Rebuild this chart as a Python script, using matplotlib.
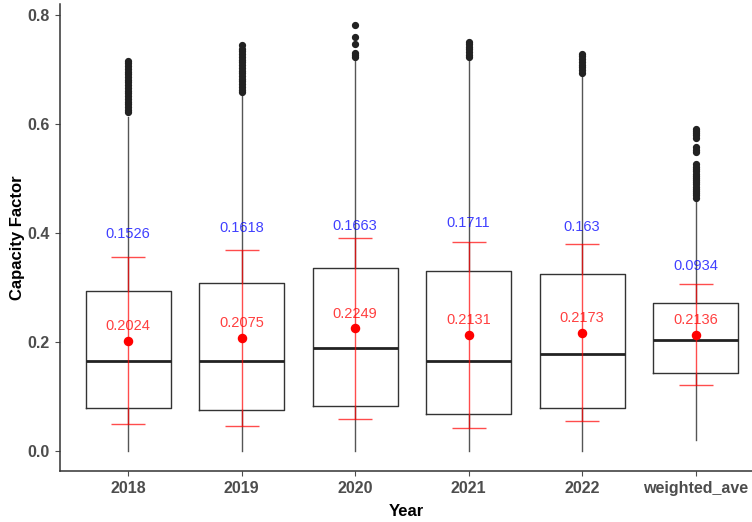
import numpy as np
import matplotlib
matplotlib.use("Agg")
import matplotlib.pyplot as plt

plt.rcParams['font.family'] = ['Liberation Sans', 'DejaVu Sans']

# ============================================================
# data
groups = ["2018", "2019", "2020", "2021", "2022", "weighted_ave"]

q1 = [0.079, 0.075, 0.083, 0.068, 0.079, 0.143]
med = [0.165, 0.165, 0.189, 0.165, 0.178, 0.204]
q3 = [0.294, 0.308, 0.336, 0.330, 0.325, 0.272]
whis_lo = [0.0, 0.0, 0.0, 0.0, 0.0, 0.021]
whis_hi = [0.612, 0.653, 0.718, 0.718, 0.690, 0.460]

fliers = [
    [0.621, 0.626, 0.631, 0.636, 0.641, 0.646, 0.651, 0.656, 0.661, 0.666, 0.671,
     0.676, 0.681, 0.686, 0.691, 0.696, 0.701, 0.706, 0.711, 0.715],
    [0.658, 0.663, 0.668, 0.673, 0.678, 0.683, 0.688, 0.693, 0.698, 0.703, 0.708,
     0.713, 0.718, 0.723, 0.728, 0.733, 0.738, 0.744],
    [0.722, 0.726, 0.731, 0.747, 0.760, 0.782],
    [0.722, 0.727, 0.732, 0.737, 0.742, 0.746, 0.750],
    [0.694, 0.699, 0.704, 0.709, 0.714, 0.719, 0.724, 0.728],
    [0.465, 0.469, 0.473, 0.477, 0.481, 0.485, 0.489, 0.493, 0.497, 0.501, 0.505,
     0.509, 0.513, 0.517, 0.521, 0.526, 0.548, 0.552, 0.557, 0.575, 0.579, 0.583,
     0.587, 0.590],
]

means = [0.2024, 0.2075, 0.2249, 0.2131, 0.2173, 0.2136]
sds = [0.1526, 0.1618, 0.1663, 0.1711, 0.163, 0.0934]
sd_label_y = [0.398, 0.409, 0.413, 0.419, 0.410, 0.339]

# ============================================================
fig = plt.figure(figsize=(7.52, 5.22), dpi=100)
ax = fig.add_axes([60 / 752, 51 / 522, 692 / 752, 467 / 522])

x = np.arange(1, len(groups) + 1)

stats = []
for i in range(len(groups)):
    stats.append(dict(med=med[i], q1=q1[i], q3=q3[i],
                      whislo=whis_lo[i], whishi=whis_hi[i],
                      fliers=fliers[i], label=groups[i]))

ax.bxp(stats, positions=x, widths=0.75, showcaps=False,
       boxprops=dict(color="#333333", linewidth=1.0),
       whiskerprops=dict(color="#555555", linewidth=1.0),
       medianprops=dict(color="#222222", linewidth=2.0),
       flierprops=dict(marker="o", markersize=4.2, markerfacecolor="#222222",
                       markeredgecolor="#222222", linestyle="none"))

# mean +- sd error bars
m = np.array(means)
s = np.array(sds)
ax.vlines(x, m - s, m + s, colors="red", alpha=0.7, linewidth=1.0, zorder=3)
ax.hlines(m - s, x - 0.15, x + 0.15, colors="red", alpha=0.7, linewidth=1.0, zorder=3)
ax.hlines(m + s, x - 0.15, x + 0.15, colors="red", alpha=0.7, linewidth=1.0, zorder=3)
ax.scatter(x, m, color="red", s=34, zorder=4)

for i in range(len(groups)):
    ax.text(x[i], m[i] + 0.027, str(means[i]), color="red", alpha=0.75,
            fontsize=10.5, ha="center", va="center", zorder=5)
    ax.text(x[i], sd_label_y[i], str(sds[i]), color="blue", alpha=0.75,
            fontsize=10.5, ha="center", va="center", zorder=5)

ax.set_xlim(0.4, 6.497)
ax.set_ylim(-0.0367, 0.82)
ax.set_xticks(x)
ax.set_xticklabels(groups)
ax.set_yticks([0.0, 0.2, 0.4, 0.6, 0.8])
ax.set_yticklabels(["0.0", "0.2", "0.4", "0.6", "0.8"])

for sp in ["top", "right"]:
    ax.spines[sp].set_visible(False)
for sp in ["left", "bottom"]:
    ax.spines[sp].set_color("#333333")
    ax.spines[sp].set_linewidth(1.1)

ax.tick_params(axis="both", colors="#4D4D4D", length=3.5, width=0.8,
               labelsize=11.5, pad=4)
for lab in ax.get_xticklabels() + ax.get_yticklabels():
    lab.set_fontweight("bold")

ax.set_xlabel("Year", fontsize=12, fontweight="bold")
ax.set_ylabel("Capacity Factor", fontsize=12, fontweight="bold")
ax.xaxis.set_label_coords(0.5, -40 / 467)
ax.xaxis.label.set_va("center")
ax.yaxis.set_label_coords(-42 / 692, 0.5)
ax.yaxis.label.set_va("center")

fig.savefig("out.png", dpi=100)
